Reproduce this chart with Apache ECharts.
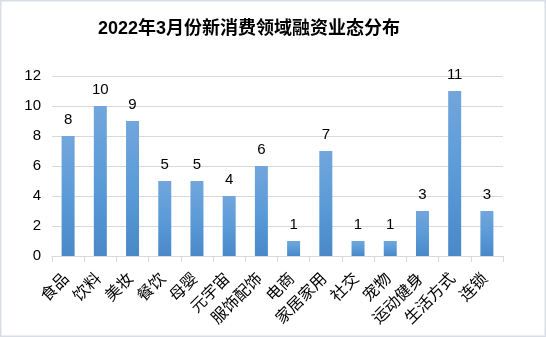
<!DOCTYPE html>
<html>
<head>
<meta charset="utf-8">
<script src="https://cdn.jsdelivr.net/npm/echarts@6/dist/echarts.min.js"></script>
<style>
  html, body { margin: 0; padding: 0; background: #fff; }
  #chart { width: 546px; height: 337px; }
</style>
</head>
<body>
<div id="chart"></div>
<script>
// 2022年3月 新消费领域各业态融资事件数
const categories = ['食品', '饮料', '美妆', '餐饮', '母婴', '元宇宙', '服饰配饰', '电商', '家居家用', '社交', '宠物', '运动健身', '生活方式', '连锁'];
const counts = [8, 10, 9, 5, 5, 4, 6, 1, 7, 1, 1, 3, 11, 3];
const yTicks = { min: 0, max: 12, interval: 2 };
const titleText = '2022年3月份新消费领域融资业态分布';

const font = '"Liberation Sans", Arial, "Noto Sans CJK SC", sans-serif';
const chart = echarts.init(document.getElementById('chart'));

chart.setOption({
  backgroundColor: '#ffffff',
  animation: false,
  title: {
    text: titleText,
    left: 93,
    top: 15,
    textStyle: { fontFamily: font, fontSize: 18, fontWeight: 'bold', color: '#000' }
  },
  graphic: [{
    type: 'rect',
    shape: { x: 0.5, y: 0.5, width: 545, height: 336 },
    style: { fill: 'none', stroke: '#d9dee6', lineWidth: 2 },
    silent: true
  }],
  grid: { left: 52, right: 43, top: 76, bottom: 81, containLabel: false },
  xAxis: {
    type: 'category',
    data: categories,
    axisLine: { lineStyle: { color: '#d9d9d9', width: 1 } },
    axisTick: { show: true, length: 6, alignWithLabel: false, lineStyle: { color: '#d9d9d9' } },
    axisLabel: {
      interval: 0,
      rotate: 45,
      margin: 19,
      padding: [0, 2, 0, 0],
      color: '#000',
      fontFamily: font,
      fontSize: 16
    }
  },
  yAxis: {
    type: 'value',
    min: yTicks.min,
    max: yTicks.max,
    interval: yTicks.interval,
    axisLine: { show: false },
    axisTick: { show: false },
    splitLine: { lineStyle: { color: '#d9d9d9', width: 1 } },
    axisLabel: { color: '#000', fontFamily: font, fontSize: 15, margin: 11 }
  },
  series: [{
    type: 'bar',
    data: counts,
    barWidth: 13,
    itemStyle: {
      color: new echarts.graphic.LinearGradient(0, 0, 0, 1, [
        { offset: 0, color: '#72a6dc' },
        { offset: 0.5, color: '#5b9bd8' },
        { offset: 1, color: '#4a88c8' }
      ])
    },
    label: {
      show: true,
      position: 'top',
      distance: 9,
      color: '#000',
      fontFamily: font,
      fontSize: 15
    }
  }]
});
</script>
</body>
</html>
